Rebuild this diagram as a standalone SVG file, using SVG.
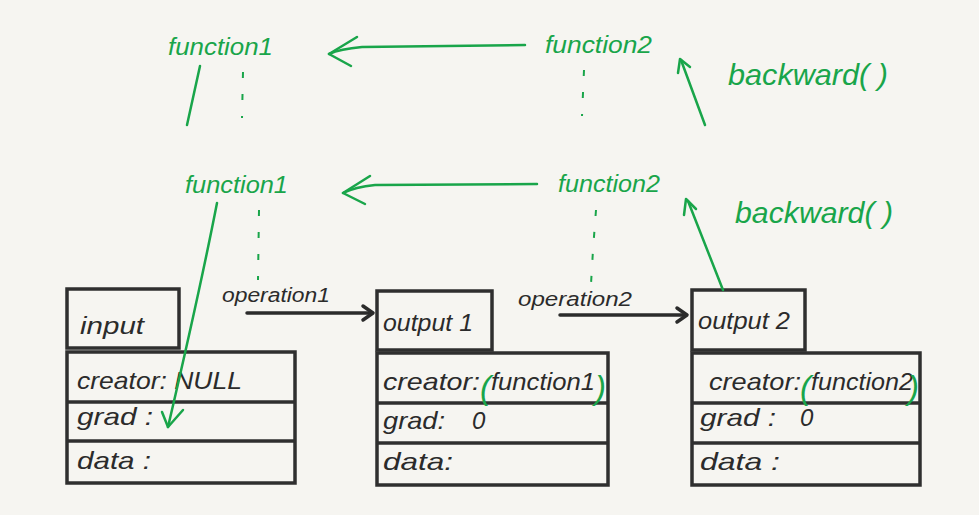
<svg xmlns="http://www.w3.org/2000/svg" width="979" height="515" viewBox="0 0 979 515">
<style>
.g{fill:#19a54a;font-family:"Liberation Sans",Arial,sans-serif;font-style:italic}
.k{fill:#2b2b2b;font-family:"Liberation Sans",Arial,sans-serif;font-style:italic}
.box{fill:none;stroke:#2f2f2f;stroke-width:3.5}
.gl{fill:none;stroke:#19a54a;stroke-width:2.5;stroke-linecap:round;stroke-linejoin:round}
.gd{fill:none;stroke:#19a54a;stroke-width:2;stroke-dasharray:6 16}
.kl{fill:none;stroke:#2b2b2b;stroke-width:3.5;stroke-linecap:round;stroke-linejoin:round}
</style>
<rect width="979" height="515" fill="#f6f5f1"/>

<g id="fn1-top"><text class="g" x="168" y="55" font-size="23" textLength="105" lengthAdjust="spacingAndGlyphs">function1</text></g>
<g id="fn2-top"><text class="g" x="545" y="53" font-size="23" textLength="107" lengthAdjust="spacingAndGlyphs">function2</text></g>
<g id="backward-top"><text class="g" x="728" y="85" font-size="30" textLength="160" lengthAdjust="spacingAndGlyphs">backward( )</text></g>
<g id="fn1"><text class="g" x="185" y="193" font-size="23" textLength="103" lengthAdjust="spacingAndGlyphs">function1</text></g>
<g id="fn2"><text class="g" x="558" y="192" font-size="23" textLength="102" lengthAdjust="spacingAndGlyphs">function2</text></g>
<g id="backward"><text class="g" x="735" y="223" font-size="30" textLength="158" lengthAdjust="spacingAndGlyphs">backward( )</text></g>

<g id="input">
<rect class="box" x="67" y="289" width="112" height="59"/>
<rect class="box" x="67" y="352" width="228" height="131"/>
<line class="box" x1="67" y1="402" x2="295" y2="402"/>
<line class="box" x1="67" y1="441" x2="295" y2="441"/>
<text class="k" x="80" y="334" font-size="24" textLength="64" lengthAdjust="spacingAndGlyphs">input</text>
<text class="k" x="77" y="389" font-size="24" textLength="165" lengthAdjust="spacingAndGlyphs">creator: NULL</text>
<text class="k" x="77" y="425" font-size="24" textLength="76" lengthAdjust="spacingAndGlyphs">grad :</text>
<text class="k" x="77" y="469" font-size="24" textLength="74" lengthAdjust="spacingAndGlyphs">data :</text>
</g>

<g id="output1">
<rect class="box" x="377" y="291" width="115" height="59"/>
<rect class="box" x="377" y="353" width="231" height="132"/>
<line class="box" x1="377" y1="403" x2="608" y2="403"/>
<line class="box" x1="377" y1="443" x2="608" y2="443"/>
<text class="k" x="383" y="331" font-size="23" textLength="90" lengthAdjust="spacingAndGlyphs">output 1</text>
<text class="k" x="383" y="390" font-size="24" textLength="97" lengthAdjust="spacingAndGlyphs">creator:</text>
<text class="g" x="480" y="399" font-size="33">(</text>
<text class="k" x="491" y="390" font-size="24" textLength="104" lengthAdjust="spacingAndGlyphs">function1</text>
<text class="g" x="595" y="399" font-size="33">)</text>
<text class="k" x="383" y="429" font-size="24" textLength="62" lengthAdjust="spacingAndGlyphs">grad:</text>
<text class="k" x="472" y="429" font-size="24">0</text>
<text class="k" x="383" y="470" font-size="24" textLength="70" lengthAdjust="spacingAndGlyphs">data:</text>
</g>

<g id="output2">
<rect class="box" x="692" y="290" width="113" height="60"/>
<rect class="box" x="692" y="353" width="228" height="132"/>
<line class="box" x1="692" y1="403" x2="920" y2="403"/>
<line class="box" x1="692" y1="443" x2="920" y2="443"/>
<text class="k" x="698" y="329" font-size="23" textLength="92" lengthAdjust="spacingAndGlyphs">output 2</text>
<text class="k" x="709" y="390" font-size="24" textLength="92" lengthAdjust="spacingAndGlyphs">creator:</text>
<text class="g" x="800" y="399" font-size="33">(</text>
<text class="k" x="811" y="390" font-size="24" textLength="102" lengthAdjust="spacingAndGlyphs">function2</text>
<text class="g" x="908" y="399" font-size="33">)</text>
<text class="k" x="700" y="426" font-size="24" textLength="76" lengthAdjust="spacingAndGlyphs">grad :</text>
<text class="k" x="800" y="426" font-size="24">0</text>
<text class="k" x="700" y="470" font-size="24" textLength="80" lengthAdjust="spacingAndGlyphs">data :</text>
</g>

<g id="connectors">
<!-- top row -->
<path class="gl" d="M525 45 L362 47 Q340 49 329 54"/>
<path class="gl" d="M357 37 L329 54 L351 66"/>
<path class="gl" d="M200 66 L187 125"/>
<line class="gd" x1="243" y1="72" x2="242" y2="118"/>
<line class="gd" x1="584" y1="70" x2="582" y2="116"/>
<path class="gl" d="M705 125 L681 60"/>
<path class="gl" d="M678 73 L680 59 L690 67"/>
<!-- second row -->
<path class="gl" d="M537 184 L375 185 Q355 187 343 193"/>
<path class="gl" d="M370 176 L343 193 L365 204"/>
<line class="gd" x1="259" y1="210" x2="258" y2="280"/>
<path class="gd" d="M596 210 L593 250 L591 284"/>
<path class="gl" d="M723 290 L688 201"/>
<path class="gl" d="M684 215 L686 199 L696 209"/>
<path class="gl" d="M217 203 Q200 290 168 427"/>
<path class="gl" d="M162 412 L168 427 L183 410"/>
<!-- operations -->
<text class="k" x="222" y="302" font-size="20" textLength="108" lengthAdjust="spacingAndGlyphs">operation1</text>
<line class="kl" x1="247" y1="313" x2="372" y2="313"/>
<path class="kl" d="M363 306 L373 313 L363 320"/>
<text class="k" x="518" y="306" font-size="20" textLength="114" lengthAdjust="spacingAndGlyphs">operation2</text>
<line class="kl" x1="560" y1="315" x2="686" y2="315"/>
<path class="kl" d="M677 308 L687 315 L677 322"/>
</g>
</svg>
